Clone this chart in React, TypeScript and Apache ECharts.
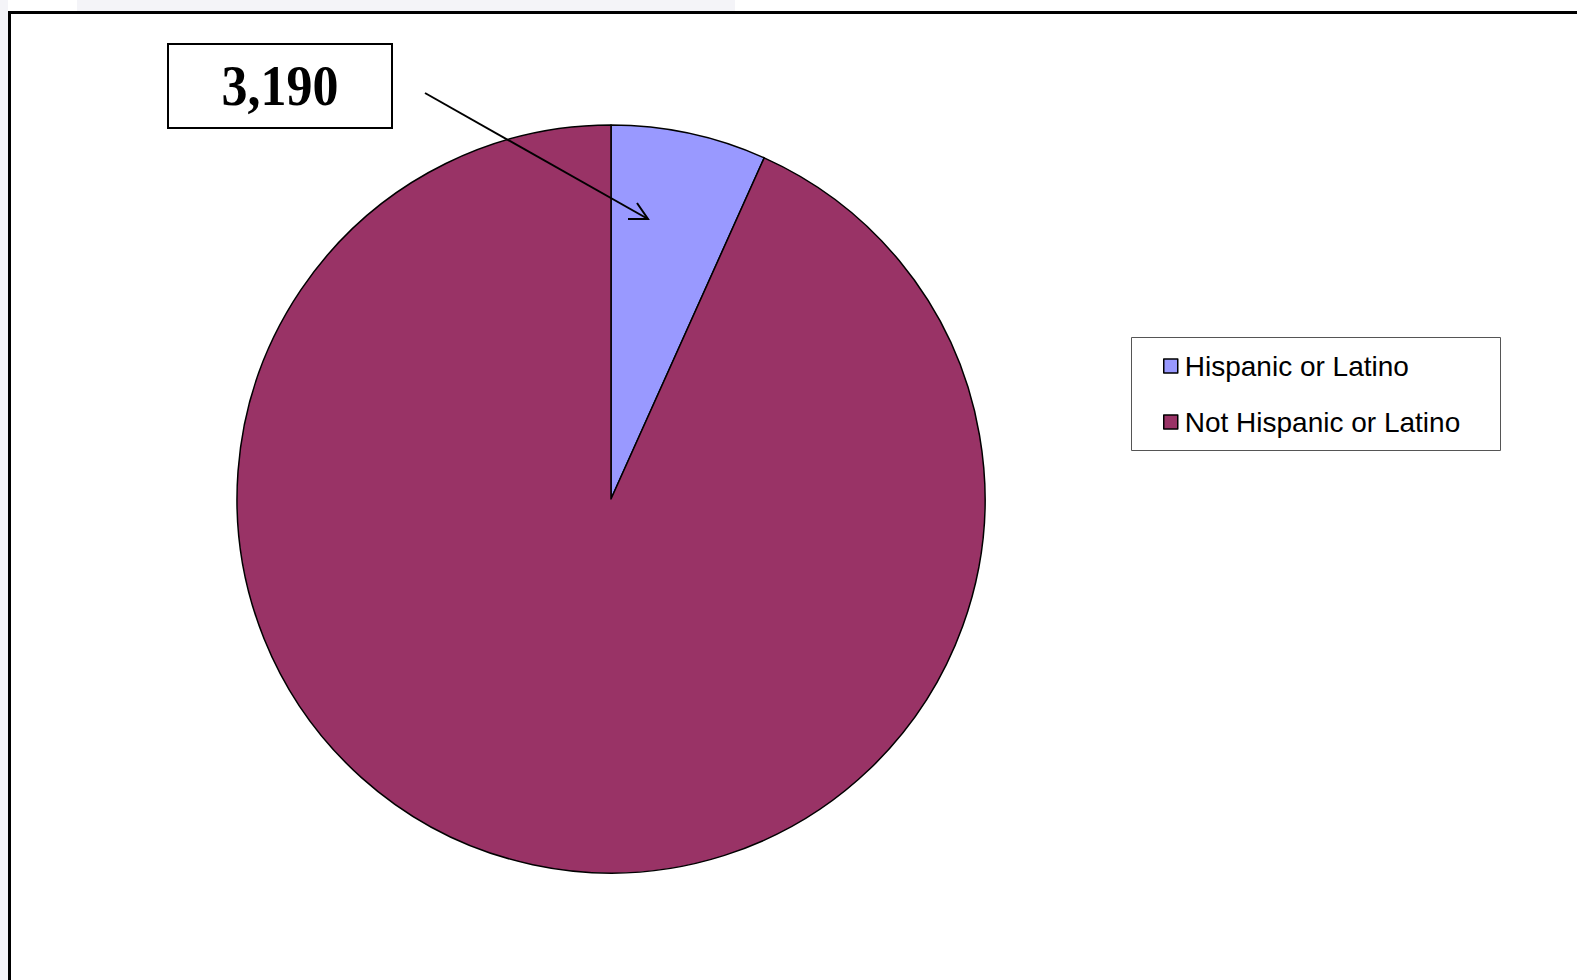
import React, { useEffect, useRef } from "react";
import * as echarts from "echarts";

const categories = ["Hispanic or Latino", "Not Hispanic or Latino"];
const values = [3190, 44300];
const colors = ["#9999FF", "#993366"];
const calloutIndex = 0;

export default function App() {
  const ref = useRef<HTMLDivElement>(null);
  useEffect(() => {
    const chart = echarts.init(ref.current!, null, { renderer: "svg" });
    const calloutText = values[calloutIndex].toLocaleString("en-US");
    chart.setOption({
      animation: false,
      backgroundColor: "#ffffff",
      color: colors,
      graphic: [
        { type: "rect", z: -10, shape: { x: 0, y: 0, width: 8, height: 980 }, style: { fill: "#f4f4f8" } },
        { type: "rect", z: -10, shape: { x: 77, y: 0, width: 658, height: 11 }, style: { fill: "#f4f4f8" } },
        { type: "rect", z: -5, shape: { x: 9.5, y: 12.5, width: 1640, height: 1040 }, style: { fill: "#ffffff", stroke: "#000", lineWidth: 3 } },
        { type: "rect", z: 10, shape: { x: 168, y: 44, width: 224, height: 84 }, style: { fill: "#ffffff", stroke: "#000", lineWidth: 2 } },
        {
          type: "text", z: 11, x: 280, y: 86, scaleY: 1.08,
          style: { text: calloutText, font: "bold 52px 'Liberation Serif', 'Times New Roman', serif", fill: "#000", align: "center", verticalAlign: "middle" },
        },
        { type: "line", z: 12, shape: { x1: 425, y1: 93, x2: 648, y2: 219 }, style: { stroke: "#000", lineWidth: 2 } },
        { type: "polyline", z: 12, shape: { points: [[637, 203], [648, 219], [628, 219]] }, style: { stroke: "#000", lineWidth: 2, fill: "none" } },
        { type: "rect", z: 5, shape: { x: 1131.5, y: 337.5, width: 369, height: 113 }, style: { fill: "#ffffff", stroke: "#555", lineWidth: 1 } },
      ],
      legend: {
        orient: "vertical",
        left: 1163,
        top: 352,
        padding: 0,
        itemWidth: 14,
        itemHeight: 14,
        itemGap: 28,
        icon: "rect",
        z: 20,
        itemStyle: { borderColor: "#000", borderWidth: 1.5 },
        textStyle: { fontFamily: "'Liberation Sans', Arial, sans-serif", fontSize: 28, lineHeight: 28, color: "#000", padding: [0, 0, 0, 2] },
        data: categories,
      },
      series: [
        {
          type: "pie",
          center: [611, 499],
          radius: 374,
          startAngle: 90,
          clockwise: true,
          label: { show: false },
          labelLine: { show: false },
          emphasis: { disabled: true },
          itemStyle: { borderColor: "#000", borderWidth: 1.5 },
          data: categories.map((name, i) => ({ name, value: values[i] })),
        },
      ],
    });
    return () => chart.dispose();
  }, []);
  return <div ref={ref} style={{ position: "fixed", left: 0, top: 0, width: 1577, height: 980 }} />;
}
